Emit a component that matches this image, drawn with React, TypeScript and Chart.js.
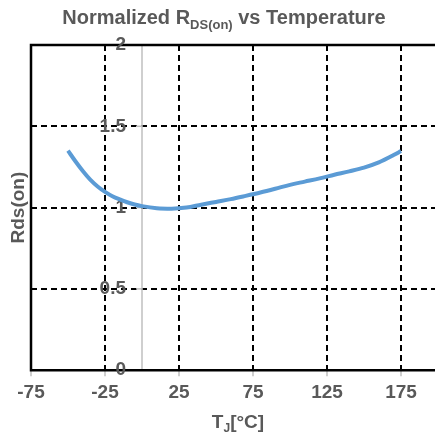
import React, { useEffect, useRef } from 'react';
import { Chart, registerables } from 'chart.js';

Chart.register(...registerables);

const temps = [-50, -45, -40, -35, -30, -25, -20, -15, -10, -5, 0, 10, 20, 30, 40, 50, 60, 70, 80, 90, 100, 110, 120, 130, 140, 150, 160, 170, 175];
const rds = [1.35, 1.285, 1.225, 1.172, 1.13, 1.097, 1.07, 1.05, 1.033, 1.019, 1.009, 0.996, 0.993, 1.0, 1.018, 1.035, 1.052, 1.072, 1.093, 1.116, 1.14, 1.16, 1.18, 1.202, 1.223, 1.246, 1.278, 1.323, 1.348];

const xTicks = [-75, -25, 25, 75, 125, 175];
const xTickLabels = ['-75', '-25', '25', '75', '125', '175'];
const yTicks = [0, 0.5, 1, 1.5, 2];
const yTickLabels = ['0', '0.5', '1', '1.5', '2'];

const titleMain = 'Normalized R';
const titleSub = 'DS(on)';
const titleTail = ' vs Temperature';
const xTitleMain = 'T';
const xTitleSub = 'J';
const xTitleTail = '[°C]';
const yTitle = 'Rds(on)';

const FAMILY = '"Liberation Sans", Arial, sans-serif';
const TEXT = '#595959';

function drawSubText(ctx: CanvasRenderingContext2D, parts: { t: string; size: number; dy: number }[], cx: number, baseline: number) {
  let total = 0;
  const widths = parts.map((p) => {
    ctx.font = `bold ${p.size}px ${FAMILY}`;
    const w = ctx.measureText(p.t).width;
    total += w;
    return w;
  });
  let x = cx - total / 2;
  ctx.textAlign = 'left';
  ctx.textBaseline = 'alphabetic';
  parts.forEach((p, i) => {
    ctx.font = `bold ${p.size}px ${FAMILY}`;
    ctx.fillText(p.t, x, baseline + p.dy);
    x += widths[i];
  });
}

const decorPlugin = {
  id: 'decor',
  beforeDatasetsDraw(chart: any) {
    const { ctx, chartArea, scales } = chart;
    const xs = scales.x;
    const ys = scales.y;
    const x0 = xs.getPixelForValue(0);
    ctx.save();
    // y axis line at x = 0
    ctx.strokeStyle = '#bfbfbf';
    ctx.lineWidth = 1.5;
    ctx.beginPath();
    ctx.moveTo(x0, chartArea.top);
    ctx.lineTo(x0, chartArea.bottom);
    ctx.stroke();
    // y tick marks
    yTicks.forEach((v) => {
      const py = ys.getPixelForValue(v);
      ctx.beginPath();
      ctx.moveTo(x0 - 6, py);
      ctx.lineTo(x0, py);
      ctx.stroke();
    });
    // borders
    ctx.strokeStyle = '#000';
    ctx.lineWidth = 2.5;
    ctx.beginPath();
    ctx.moveTo(chartArea.right + 5, chartArea.top);
    ctx.lineTo(chartArea.left, chartArea.top);
    ctx.lineTo(chartArea.left, chartArea.bottom);
    ctx.lineTo(chartArea.right + 5, chartArea.bottom);
    ctx.stroke();
    // y tick labels
    ctx.fillStyle = TEXT;
    ctx.font = `bold 19px ${FAMILY}`;
    ctx.textAlign = 'right';
    ctx.textBaseline = 'middle';
    yTicks.forEach((v, i) => {
      ctx.fillText(yTickLabels[i], x0 - 16, ys.getPixelForValue(v));
    });
    ctx.restore();
  },
  afterDraw(chart: any) {
    const { ctx, chartArea } = chart;
    ctx.save();
    ctx.fillStyle = TEXT;
    drawSubText(ctx, [
      { t: titleMain, size: 20, dy: 0 },
      { t: titleSub, size: 13, dy: 5 },
      { t: titleTail, size: 20, dy: 0 },
    ], 224, 24);
    drawSubText(ctx, [
      { t: xTitleMain, size: 19, dy: 0 },
      { t: xTitleSub, size: 12, dy: 4 },
      { t: xTitleTail, size: 19, dy: 0 },
    ], 238, 428);
    ctx.translate(19, (chartArea.top + chartArea.bottom) / 2);
    ctx.rotate(-Math.PI / 2);
    ctx.font = `bold 19px ${FAMILY}`;
    ctx.textAlign = 'center';
    ctx.textBaseline = 'middle';
    ctx.fillText(yTitle, 0, 0);
    ctx.restore();
  },
};

export default function App() {
  const canvasRef = useRef<HTMLCanvasElement | null>(null);

  useEffect(() => {
    if (!canvasRef.current) return;
    const chart = new Chart(canvasRef.current, {
      type: 'line',
      data: {
        datasets: [
          {
            data: temps.map((t, i) => ({ x: t, y: rds[i] })),
            borderColor: '#5b9bd5',
            borderWidth: 4,
            pointRadius: 0,
            cubicInterpolationMode: 'monotone',
            fill: false,
          },
        ],
      },
      options: {
        animation: false,
        responsive: true,
        maintainAspectRatio: false,
        layout: { padding: { left: 31, top: 45, right: 2, bottom: 29 } },
        plugins: {
          legend: { display: false },
          title: { display: false },
          tooltip: { enabled: false },
        },
        scales: {
          x: {
            type: 'linear',
            min: -75,
            max: 200,
            afterBuildTicks: (s: any) => {
              s.ticks = xTicks.map((v) => ({ value: v }));
            },
            grid: {
              color: '#000',
              lineWidth: 2,
              tickColor: '#bfbfbf',
              tickWidth: 1.5,
              tickLength: 6,
              tickBorderDash: [],
            },
            border: { display: false, dash: [6, 4] },
            ticks: {
              color: TEXT,
              font: { family: FAMILY, size: 19, weight: 'bold' },
              padding: 5,
              maxRotation: 0,
              autoSkip: false,
              callback: (_v: any, i: number) => xTickLabels[i],
            },
          },
          y: {
            type: 'linear',
            min: 0,
            max: 2,
            afterBuildTicks: (s: any) => {
              s.ticks = yTicks.map((v) => ({ value: v }));
            },
            grid: {
              color: (c: any) => (c.tick && (c.tick.value === 0 || c.tick.value === 2) ? 'rgba(0,0,0,0)' : '#000'),
              lineWidth: 2,
              drawTicks: false,
            },
            border: { display: false, dash: [6, 4] },
            ticks: { display: false },
          },
        },
      } as any,
      plugins: [decorPlugin],
    });
    return () => chart.destroy();
  }, []);

  return (
    <div style={{ position: 'fixed', left: 0, top: 0, width: 435, height: 438, overflow: 'hidden', background: '#fff' }}>
      <div style={{ position: 'relative', width: 440, height: 438 }}>
        <canvas ref={canvasRef} />
      </div>
    </div>
  );
}
